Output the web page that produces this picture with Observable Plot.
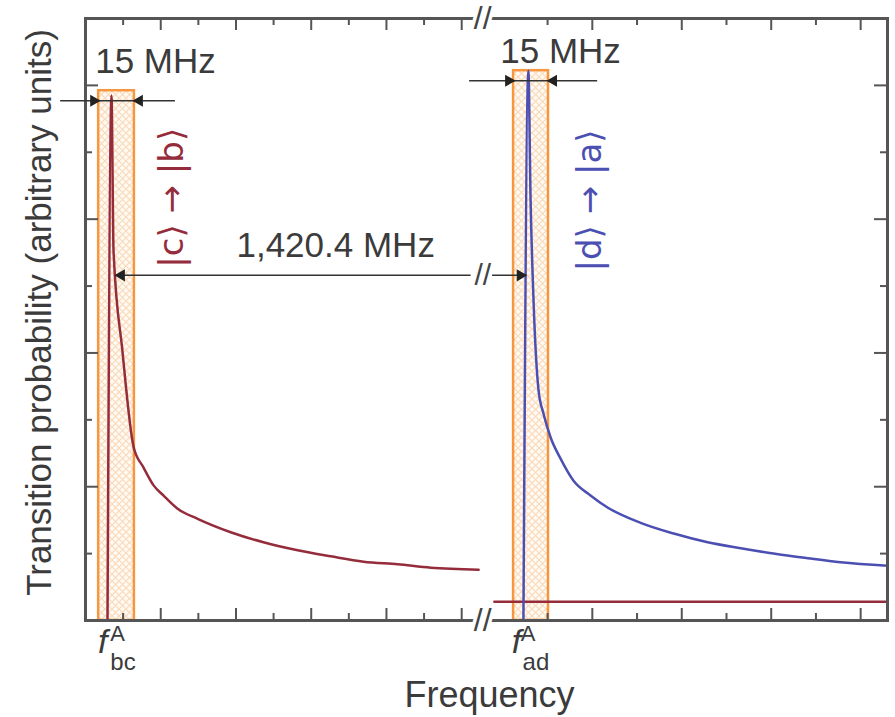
<!DOCTYPE html>
<html><head><meta charset="utf-8">
<script src="https://cdn.jsdelivr.net/npm/d3@7"></script>
<script src="https://cdn.jsdelivr.net/npm/@observablehq/plot@0.6"></script>
<style>body{margin:0;background:#fff}</style>
</head><body><div id="chart"></div>
<script>
// ---- data (x: panel grid units, left panel 0–10.5, right panel 10.5–19.6 after the break; y: arbitrary units 0–9)
const redX  = [0.585, 0.69, 0.745, 0.98, 1.28, 1.54, 1.81, 2.07, 2.45, 2.98, 3.86, 4.73, 5.64, 6.52, 7.39, 8.30, 9.18, 10.45];
const redY  = [0,     7.85, 5.53,  4.04, 2.59, 2.29, 2.02, 1.87, 1.67, 1.52, 1.32, 1.17, 1.05, 0.96, 0.88, 0.84, 0.79, 0.76];
const blueX = [11.46, 11.57, 11.62, 11.686, 11.798, 11.909, 12.066, 12.29, 12.58, 12.96, 13.34, 14.08, 14.82, 15.58, 16.32, 17.05, 17.82, 18.55, 19.6];
const blueY = [0,     8.22,  6.28,  4.78,   3.44,   3.09,   2.74,   2.42,  2.09,  1.87,  1.69,  1.46,  1.30,  1.17,  1.08,  1.00,  0.93,  0.87,  0.82];
const redTailX = [10.81, 19.6];
const redTailY = [0.28, 0.28];

const boxX1 = [0.35, 11.24];
const boxX2 = [1.30, 12.02];
const boxTop = [7.92, 8.22];

const majorX = [2, 4, 6, 8, 10, 13, 15, 17, 19];
const minorX = [1, 3, 5, 7, 9, 12, 14, 16, 18];
const majorY = [2, 4, 6, 8];
const minorY = [1, 3, 5, 7];

const widthLabels = ["15 MHz", "15 MHz"];
const widthLabelX = [1.86, 12.29];
const widthLabelY = [8.19, 8.34];
const widthLineY  = [7.77, 8.07];
const widthLineX1 = [-0.66, 10.21];
const widthLineX2 = [2.39, 13.12];

const splitLabel = "1,420.4 MHz";
const splitLabelX = 6.65, splitLabelY = 5.43;
const splitLineY = 5.16;
const splitSegX1 = [0.82, 10.77];
const splitSegX2 = [10.25, 11.50];
const splitBreakX = 10.55;

const ketLabels = ["|c\u27E9 \u2192 |b\u27E9", "|d\u27E9 \u2192 |a\u27E9"];
const ketX = [2.31, 12.94];
const ketY = [6.32, 6.28];

const fSub = ["bc", "ad"];
const fX   = [0.33, 11.20];
const fSupX = [0.66, 11.40];
const fSubX = [0.66, 11.44];

const axisBreakX = 10.55;
const xBreakDomain = [0, 10.5, 19.6];

// ---- styles
const FONT = "'Liberation Sans', Arial, Helvetica, sans-serif";
const TXT = "#3b3b3b", AXIS = "#555";
const RED = "#952c3c", BLUE = "#4c4fb2", ORANGE = "#f6973f";
const W = 895, H = 717, mL = 85, mR = 8, mT = 18, mB = 97;
const FH = H - mT - mB, FW = W - mL - mR;

const red = redX.map((x, i) => ({x, y: redY[i]}));
const blue = blueX.map((x, i) => ({x, y: blueY[i]}));
const redTail = redTailX.map((x, i) => ({x, y: redTailY[i]}));
const boxes = boxX1.map((x1, i) => ({x1, x2: boxX2[i], top: boxTop[i]}));
const widths = widthLabels.map((t, i) => ({t, x: widthLabelX[i], y: widthLabelY[i], ly: widthLineY[i], x1: widthLineX1[i], x2: widthLineX2[i], b1: boxX1[i], b2: boxX2[i]}));
const splitSegs = splitSegX1.map((x1, i) => ({x1, x2: splitSegX2[i]}));
const kets = ketLabels.map((t, i) => ({t, x: ketX[i], y: ketY[i], c: i ? BLUE : RED}));
const fl = fSub.map((s, i) => ({s, x: fX[i], xs: fSupX[i], xb: fSubX[i]}));

const chart = Plot.plot({
  width: W, height: H, marginLeft: mL, marginRight: mR, marginTop: mT, marginBottom: mB,
  x: {type: "linear", domain: xBreakDomain, range: [mL, 480, W - mR], axis: null},
  y: {domain: [0, 9], axis: null},
  style: {fontFamily: FONT, background: "white", overflow: "visible"},
  marks: [
    Plot.rect(boxes, {x1: "x1", x2: "x2", y1: 0, y2: "top", fill: "url(#hatch)"}),
    Plot.rect(boxes, {x1: "x1", x2: "x2", y1: 0, y2: "top", fill: "none", stroke: ORANGE, strokeWidth: 2.5}),
    Plot.line(red, {x: "x", y: "y", stroke: RED, strokeWidth: 2.5, curve: "monotone-x"}),
    Plot.line(redTail, {x: "x", y: "y", stroke: RED, strokeWidth: 2.5}),
    Plot.line(blue, {x: "x", y: "y", stroke: BLUE, strokeWidth: 2.5, curve: "monotone-x"}),
    // frame & ticks
    Plot.frame({stroke: AXIS, strokeWidth: 3}),
    Plot.tickX(majorX, {x: d => d, insetTop: FH - 12, stroke: AXIS, strokeWidth: 2}),
    Plot.tickX(minorX, {x: d => d, insetTop: FH - 7, stroke: AXIS, strokeWidth: 2}),
    Plot.tickX(majorX, {x: d => d, insetBottom: FH - 12, stroke: AXIS, strokeWidth: 2}),
    Plot.tickX(minorX, {x: d => d, insetBottom: FH - 7, stroke: AXIS, strokeWidth: 2}),
    Plot.tickY(majorY, {y: d => d, insetRight: FW - 13, stroke: AXIS, strokeWidth: 2}),
    Plot.tickY(minorY, {y: d => d, insetRight: FW - 7, stroke: AXIS, strokeWidth: 2}),
    Plot.tickY(majorY, {y: d => d, insetLeft: FW - 13, stroke: AXIS, strokeWidth: 2}),
    Plot.tickY(minorY, {y: d => d, insetLeft: FW - 7, stroke: AXIS, strokeWidth: 2}),
    // axis break marks
    Plot.text([axisBreakX], {x: d => d, frameAnchor: "top", text: () => "//", fontSize: 32, letterSpacing: "1px", fill: "#444", stroke: "white", strokeWidth: 7, lineAnchor: "middle"}),
    Plot.text([axisBreakX], {x: d => d, frameAnchor: "bottom", text: () => "//", fontSize: 32, letterSpacing: "1px", fill: "#444", stroke: "white", strokeWidth: 7, lineAnchor: "middle"}),
    // 15 MHz width markers
    Plot.ruleY(widths, {y: "ly", x1: "x1", x2: "x2", stroke: "#333", strokeWidth: 1.5}),
    Plot.dot(widths, {x: "b1", y: "ly", symbol: "triangle", r: 4.5, rotate: 90, fill: "#222", dx: -5}),
    Plot.dot(widths, {x: "b2", y: "ly", symbol: "triangle", r: 4.5, rotate: -90, fill: "#222", dx: 5}),
    Plot.text(widths, {x: "x", y: "y", text: "t", fontSize: 35, fill: TXT, lineAnchor: "bottom"}),
    // 1,420.4 MHz splitting
    Plot.ruleY(splitSegs, {y: splitLineY, x1: "x1", x2: "x2", stroke: "#333", strokeWidth: 1.5}),
    Plot.dot([splitSegX1[0]], {x: d => d, y: splitLineY, symbol: "triangle", r: 4.5, rotate: -90, fill: "#222", dx: 5}),
    Plot.dot([splitSegX2[1]], {x: d => d, y: splitLineY, symbol: "triangle", r: 4.5, rotate: 90, fill: "#222", dx: -5}),
    Plot.text([splitBreakX], {x: d => d, y: splitLineY, text: () => "//", fontSize: 30, fill: "#444", lineAnchor: "middle"}),
    Plot.text([splitLabel], {x: splitLabelX, y: splitLabelY, text: d => d, fontSize: 35, fill: TXT, lineAnchor: "bottom"}),
    // transition labels
    Plot.text(kets, {x: "x", y: "y", text: "t", fill: d => d.c, rotate: -90, fontSize: 34, fontFamily: "'DejaVu Sans', sans-serif", textAnchor: "middle", lineAnchor: "middle"}),
    // f labels
    Plot.text(fl, {x: "x", frameAnchor: "bottom", text: () => "f", fontStyle: "italic", fontSize: 34, fill: TXT, textAnchor: "start", lineAnchor: "bottom", dy: 32}),
    Plot.text(fl, {x: "xs", frameAnchor: "bottom", text: () => "A", fontSize: 22, fill: TXT, textAnchor: "start", lineAnchor: "bottom", dy: 20}),
    Plot.text(fl, {x: "xb", frameAnchor: "bottom", text: "s", fontSize: 24, fill: TXT, textAnchor: "start", lineAnchor: "bottom", dy: 49}),
    // axis titles
    Plot.text(["Transition probability (arbitrary units)"], {frameAnchor: "left", text: d => d, rotate: -90, fontSize: 35, fill: TXT, textAnchor: "middle", lineAnchor: "bottom", dx: -35, dy: -7}),
    Plot.text(["Frequency"], {frameAnchor: "bottom", text: d => d, fontSize: 36, fill: TXT, textAnchor: "middle", lineAnchor: "bottom", dy: 86, dx: 3})
  ]
});

const defs = d3.select(chart).insert("defs", ":first-child");
const pat = defs.append("pattern").attr("id", "hatch").attr("patternUnits", "userSpaceOnUse").attr("width", 7).attr("height", 7);
pat.append("rect").attr("width", 7).attr("height", 7).attr("fill", "#fffaf4");
pat.append("path").attr("d", "M0,0L7,7M7,0L0,7").attr("stroke", "#fad9b6").attr("stroke-width", 1.1);
document.getElementById("chart").appendChild(chart);
</script>
</body></html>
